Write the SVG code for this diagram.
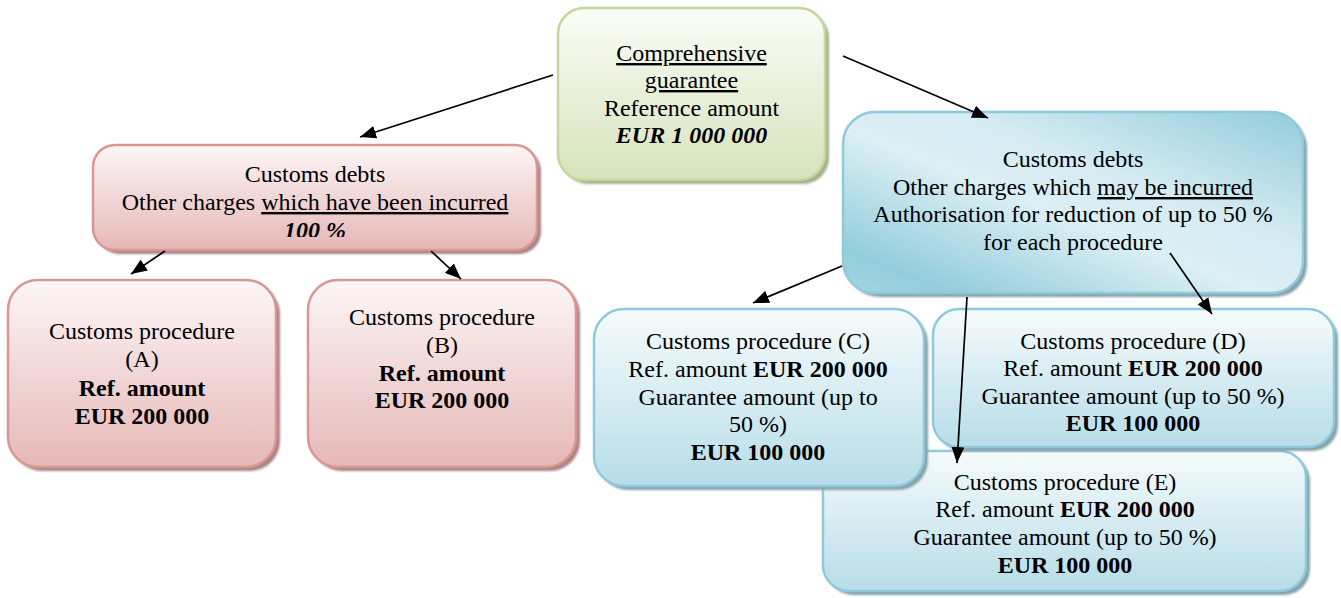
<svg xmlns="http://www.w3.org/2000/svg" width="1341" height="598" viewBox="0 0 1341 598" font-family="'Liberation Serif', 'Times New Roman', Tinos, 'DejaVu Serif', serif">
<style>
text{font-family:'Liberation Serif','Times New Roman',Tinos,'DejaVu Serif',serif;font-size:24px;fill:#000;text-anchor:middle}
.b{font-weight:bold}
.bi{font-weight:bold;font-style:italic}
.u{text-decoration:underline}
.sh{filter:url(#blur)}
.conn line{stroke:#000;stroke-width:1.7;marker-end:url(#arr)}
</style>
<defs>
<filter id="blur" x="-5%" y="-5%" width="110%" height="110%"><feGaussianBlur stdDeviation="1"/></filter>
<linearGradient id="gGreen" x1="0" y1="0" x2="0" y2="1"><stop offset="0" stop-color="#fbfdf7"/><stop offset="1" stop-color="#d6e3bc"/></linearGradient>
<linearGradient id="gPink" x1="0" y1="0" x2="0" y2="1"><stop offset="0" stop-color="#fdf6f6"/><stop offset="1" stop-color="#e5b8b7"/></linearGradient>
<linearGradient id="gBlue" x1="0" y1="0" x2="0" y2="1"><stop offset="0" stop-color="#f6fbfc"/><stop offset="1" stop-color="#b7dde8"/></linearGradient>
<linearGradient id="gBlueMain" x1="0" y1="1" x2="1" y2="0"><stop offset="0" stop-color="#a5d6e2"/><stop offset="0.12" stop-color="#93cddc"/><stop offset="0.45" stop-color="#dbeff4"/><stop offset="0.62" stop-color="#d6ecf2"/><stop offset="1" stop-color="#92ccdb"/></linearGradient>
<clipPath id="clipPink"><rect x="93" y="145" width="444" height="92"/></clipPath>
<marker id="arr" markerUnits="userSpaceOnUse" markerWidth="17" markerHeight="13" refX="16" refY="6.5" orient="auto"><path d="M0,0 L16,6.5 L0,13 z" fill="#000"/></marker>
</defs>

<g id="node-comprehensive">
<rect class="sh" x="562" y="12" width="267" height="172" rx="26" fill="#a6b08e"/>
<rect x="558" y="8" width="267" height="172" rx="26" fill="url(#gGreen)" stroke="#c3d69b" stroke-width="2.5"/>
<text x="691.5" y="61"><tspan class="u">Comprehensive</tspan></text>
<text x="691.5" y="88"><tspan class="u">guarantee</tspan></text>
<text x="691.5" y="116">Reference amount</text>
<text x="691.5" y="143" class="bi">EUR 1 000 000</text>
</g>

<g id="node-incurred">
<rect class="sh" x="97" y="149" width="444" height="105" rx="22" fill="#a88584"/>
<rect x="93" y="145" width="444" height="105" rx="22" fill="url(#gPink)" stroke="#d99694" stroke-width="2.5"/>
<g clip-path="url(#clipPink)">
<text x="315" y="182">Customs debts</text>
<text x="315" y="210">Other charges <tspan class="u">which have been incurred</tspan></text>
<text x="315" y="238" class="bi">100 %</text>
</g>
</g>

<g id="node-A">
<rect class="sh" x="12" y="284" width="268" height="187" rx="30" fill="#a88584"/>
<rect x="8" y="280" width="268" height="187" rx="30" fill="url(#gPink)" stroke="#d99694" stroke-width="2.5"/>
<text x="142" y="339">Customs procedure</text>
<text x="142" y="367">(A)</text>
<text x="142" y="396" class="b">Ref. amount</text>
<text x="142" y="424" class="b">EUR 200 000</text>
</g>

<g id="node-B">
<rect class="sh" x="312" y="284" width="268" height="187" rx="30" fill="#a88584"/>
<rect x="308" y="280" width="268" height="187" rx="30" fill="url(#gPink)" stroke="#d99694" stroke-width="2.5"/>
<text x="442" y="325">Customs procedure</text>
<text x="442" y="353">(B)</text>
<text x="442" y="381" class="b">Ref. amount</text>
<text x="442" y="408" class="b">EUR 200 000</text>
</g>

<g id="node-may">
<rect class="sh" x="847" y="116" width="460" height="181" rx="32" fill="#86a3aa"/>
<rect x="843" y="112" width="460" height="181" rx="32" fill="url(#gBlueMain)" stroke="#8ecadb" stroke-width="2.5"/>
<text x="1073" y="167">Customs debts</text>
<text x="1073" y="195">Other charges which <tspan class="u">may be incurred</tspan></text>
<text x="1073" y="222">Authorisation for reduction of up to 50 %</text>
<text x="1073" y="250">for each procedure</text>
</g>

<g id="node-E">
<rect class="sh" x="827" y="455" width="483" height="140" rx="26" fill="#86a3aa"/>
<rect x="823" y="451" width="483" height="140" rx="26" fill="url(#gBlue)" stroke="#8ecadb" stroke-width="2.5"/>
<text x="1065" y="490">Customs procedure (E)</text>
<text x="1065" y="517">Ref. amount <tspan class="b">EUR 200 000</tspan></text>
<text x="1065" y="545">Guarantee amount (up to 50 %)</text>
<text x="1065" y="573" class="b">EUR 100 000</text>
</g>

<g id="node-C">
<rect class="sh" x="598" y="313" width="330" height="177" rx="30" fill="#86a3aa"/>
<rect x="594" y="309" width="330" height="177" rx="30" fill="url(#gBlue)" stroke="#8ecadb" stroke-width="2.5"/>
<text x="758" y="349">Customs procedure (C)</text>
<text x="758" y="377">Ref. amount <tspan class="b">EUR 200 000</tspan></text>
<text x="758" y="405">Guarantee amount (up to</text>
<text x="758" y="432">50 %)</text>
<text x="758" y="460" class="b">EUR 100 000</text>
</g>

<g id="node-D">
<rect class="sh" x="937" y="313" width="401" height="138" rx="26" fill="#86a3aa"/>
<rect x="933" y="309" width="401" height="138" rx="26" fill="url(#gBlue)" stroke="#8ecadb" stroke-width="2.5"/>
<text x="1133" y="349">Customs procedure (D)</text>
<text x="1133" y="376">Ref. amount <tspan class="b">EUR 200 000</tspan></text>
<text x="1133" y="404">Guarantee amount (up to 50 %)</text>
<text x="1133" y="431" class="b">EUR 100 000</text>
</g>

<g id="connectors" class="conn">
<line x1="553" y1="75" x2="360" y2="137"/>
<line x1="843" y1="56" x2="988" y2="118"/>
<line x1="165" y1="251" x2="131" y2="274"/>
<line x1="431" y1="251" x2="461" y2="279"/>
<line x1="842" y1="266" x2="753" y2="303"/>
<line x1="1170" y1="253" x2="1212" y2="314"/>
<line x1="967" y1="297" x2="957" y2="463"/>
</g>
</svg>
